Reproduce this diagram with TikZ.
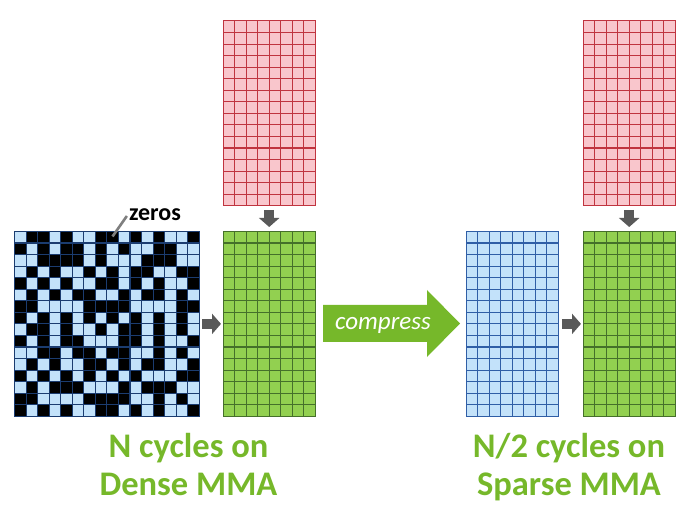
\documentclass[tikz,border=0pt]{standalone}
\usepackage{fontspec}
\setmainfont{Carlito}
\usepackage{tikz}
\usetikzlibrary{positioning,arrows.meta}
\tikzstyle{slide} = [x = 1pt, y = -1pt]
\definecolor{redFill}{HTML}{F9C6CC}
\definecolor{redLine}{HTML}{C0343F}
\definecolor{greenFill}{HTML}{92D050}
\definecolor{greenLine}{HTML}{45702A}
\definecolor{blueFill}{HTML}{C3E2FA}
\definecolor{blueLine}{HTML}{2F5EA6}
\definecolor{navyFill}{HTML}{C3E2FA}
\definecolor{navyLine}{HTML}{1B3C70}
\definecolor{arrowGray}{HTML}{595959}
\definecolor{leaderGray}{HTML}{7F7F7F}
\definecolor{nvGreen}{HTML}{76B82A}
\tikzstyle{gridBox} = [inner sep=0, outer sep=0, line width=1pt]
\tikzstyle{gridLine} = [line width=1.1pt]
\tikzstyle{flowArrow} = [draw=arrowGray, line width=10pt, -{Triangle[length=9pt, width=20pt]}]
\tikzstyle{cycleText} = [font=\fontsize{34.5}{38}\selectfont\bfseries, text=nvGreen, align=center, inner sep=0]
\tikzstyle{zeroText} = [font=\fontsize{24}{26}\selectfont\bfseries, inner sep=0]
\tikzstyle{compressText} = [font=\fontsize{25}{28}\selectfont\itshape, text=white, inner sep=0]
\tikzstyle{leaderLine} = [draw=leaderGray, line width=2.6pt]
\newcommand{\cellSize}{11.55}
\newcommand{\gridMatrix}[6]{
  \pgfmathsetmacro{\gridW}{#4 * \cellSize}
  \pgfmathsetmacro{\gridH}{#5 * \cellSize}
  \node [gridBox, fill=#6Fill, draw=#6Line, minimum width=\gridW pt, minimum height=\gridH pt, anchor=north west] (#1) at (#2,#3) {};
}
\newcommand{\gridLines}[6]{
  \pgfmathsetmacro{\gridW}{#4 * \cellSize}
  \pgfmathsetmacro{\gridH}{#5 * \cellSize}
  \pgfmathtruncatemacro{\lastCol}{#4 - 1}
  \pgfmathtruncatemacro{\lastRow}{#5 - 1}
  \foreach \col in {1,...,\lastCol} {
    \draw [gridLine, #6Line] (#2 + \col * \cellSize, #3) -- + (0, \gridH);
  }
  \foreach \row in {1,...,\lastRow} {
    \draw [gridLine, #6Line] (#2, #3 + \row * \cellSize) -- + (\gridW, 0);
  }
  \draw [#6Line, line width=1pt] (#1.north west) rectangle (#1.south east);
}
\newcommand{\zeroCell}[4]{\fill [black] (#1 + #4 * \cellSize - \cellSize, #2 + #3 * \cellSize - \cellSize) rectangle + (\cellSize, \cellSize);}

\begin{document}
\begin{tikzpicture}[slide]
    \useasboundingbox (0,0) rectangle (693,518);
    % dense side
    \gridMatrix{denseA}{14.5}{231.5}{16}{16}{navy}
    \foreach \row/\zeros in {1/{2,3,5,8,9,11,13,16}, 2/{1,3,5,6,8,10,13,14}, 3/{3,4,5,6,8,12,13,14}, 4/{2,4,7,9,11,12,15,16},
                             5/{1,3,5,8,9,11,13,16}, 6/{2,4,6,7,10,12,13,15}, 7/{1,2,7,8,9,10,15,16}, 8/{1,3,5,7,9,11,13,15},
                             9/{2,3,5,8,10,11,13,15}, 10/{1,3,5,6,10,11,13,16}, 11/{3,4,6,7,9,10,13,15}, 12/{2,4,7,8,10,12,13,16},
                             13/{1,3,5,7,9,11,15,16}, 14/{2,4,5,6,10,12,13,14}, 15/{1,2,7,8,9,10,13,15}, 16/{1,3,5,8,9,11,13,16}} {
      \foreach \col in \zeros {
        \zeroCell{14.5}{231.5}{\row}{\col}
      }
    }
    \gridLines{denseA}{14.5}{231.5}{16}{16}{navy}
    \gridMatrix{weightB}{223}{21}{8}{16}{red}
    \gridLines{weightB}{223}{21}{8}{16}{red}
    \gridMatrix{resultC}{223}{231.5}{8}{16}{green}
    \gridLines{resultC}{223}{231.5}{8}{16}{green}
    \draw [flowArrow, shorten <=4pt, shorten >=4.5pt] (weightB) -- (resultC);
    \draw [flowArrow, shorten <=2.7pt, shorten >=2pt] (denseA) -- (resultC);
    \node [zeroText, anchor=base] (zerosLbl) at (155,221) {zeros};
    \coordinate (zeroPick) at (112.5,236.5);
    \draw [leaderLine] ([shift={(-2,-5)}]zerosLbl.base west) -- (zeroPick);
    \node [cycleText, anchor=base] (denseLbl) at (188.5,495) {N cycles on\\Dense MMA};
    % compress
    \fill [nvGreen] (323,305) -- (427,305) -- (427,290) -- (460,323.5) -- (427,357) -- (427,342) -- (323,342) -- cycle;
    \node [compressText, anchor=base] (compressLbl) at (383,330) {compress};
    % sparse side
    \gridMatrix{compA}{466}{231.5}{8}{16}{blue}
    \gridLines{compA}{466}{231.5}{8}{16}{blue}
    \gridMatrix{weightBb}{583}{21}{8}{16}{red}
    \gridLines{weightBb}{583}{21}{8}{16}{red}
    \gridMatrix{resultCb}{583}{231.5}{8}{16}{green}
    \gridLines{resultCb}{583}{231.5}{8}{16}{green}
    \draw [flowArrow, shorten <=4pt, shorten >=4.5pt] (weightBb) -- (resultCb);
    \draw [flowArrow, shorten <=3.5pt, shorten >=2pt] (compA) -- (resultCb);
    \node [cycleText, anchor=base] (sparseLbl) at (569,495) {N/2 cycles on\\Sparse MMA};
\end{tikzpicture}
\end{document}
